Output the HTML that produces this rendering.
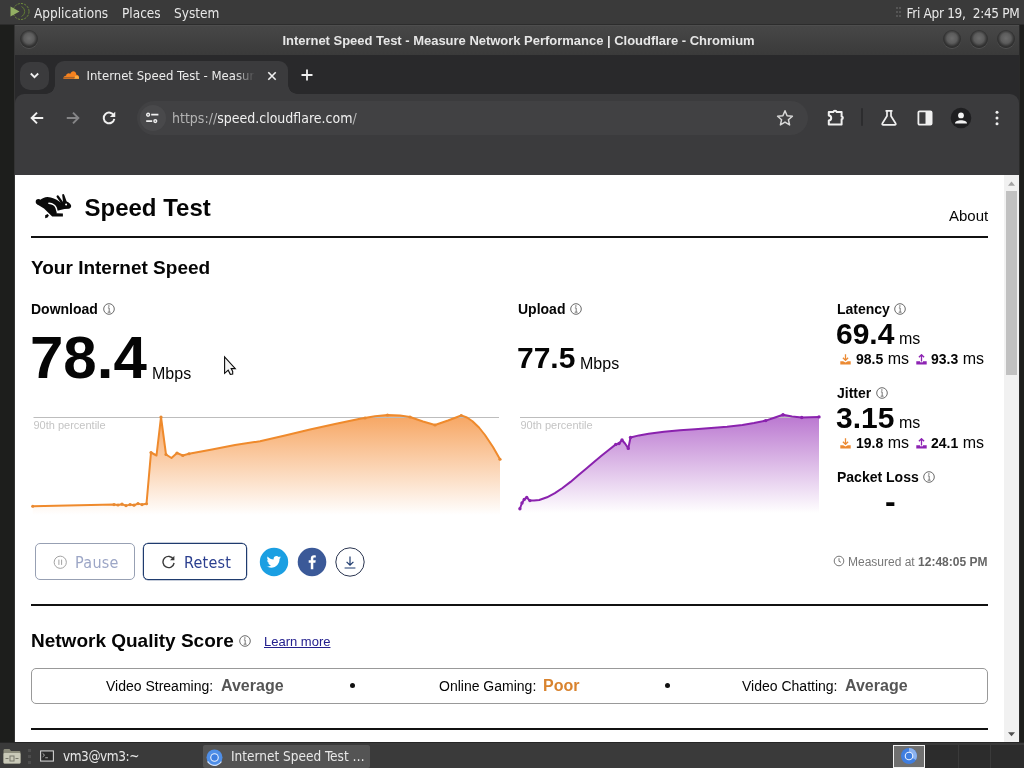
<!DOCTYPE html>
<html><head><meta charset="utf-8"><title>Internet Speed Test - Measure Network Performance | Cloudflare</title>
<style>
*{box-sizing:border-box;margin:0;padding:0}
html,body{width:1024px;height:768px;overflow:hidden;background:#1d1e1c;font-family:"Liberation Sans",sans-serif;}
.abs{position:absolute}
.ui{font-family:"DejaVu Sans Condensed","DejaVu Sans","Liberation Sans",sans-serif}
#top{left:0;top:0;width:1024px;height:25px;border-bottom:1px solid #2c2c2c;background:#3a3a3a;color:#e8e8e8;font-size:13.5px}
#top span{position:absolute;top:5px;white-space:pre;line-height:16px}
#win{left:15px;top:25px;width:1005px;height:718px;background:#29292b;border-right:1px solid #2a2a2a;box-shadow:-1px 0 0 #333}
#title{left:0;top:0;width:1004px;height:30px;padding-left:3px;letter-spacing:-.02px;border-top:1px solid #4e4e4e;background:linear-gradient(#474747,#3a3a3a);color:#e6e6e6;font-weight:bold;font-size:13px;text-align:center;line-height:30px}
.wb{position:absolute;top:4px;width:18px;height:18px;border-radius:50%;background:radial-gradient(circle at 50% 46%,#6c6c6c 0,#5c5c5c 38%,#343434 60%,#2c2c2c 74%,rgba(60,60,60,0) 100%);box-shadow:0 1px 0 rgba(255,255,255,.10)}
#tabs{left:0;top:30px;width:1004px;height:39px;background:#29292b}
#tab{left:40px;top:6px;width:233px;height:33px;background:#3b3b3d;border-radius:9px 9px 0 0;color:#ececec;font-size:13px}
#tb{left:0;top:69px;width:1004px;height:81px;background:#3b3b3d;border-radius:9px 9px 0 0}
#omni{left:122px;top:6.500px;width:671px;height:34px;border-radius:17px;background:#414143;color:#f0f0f0;font-size:14px}
#page{left:15px;top:175px;width:989px;height:568px;background:#fff;color:#050505;overflow:hidden}
#sb{left:1004px;top:175px;width:15px;height:568px;background:#f1f1f1}
#bot{left:0;top:742px;width:1024px;height:26px;border-top:1px solid #262626;background:#3a3a3a;color:#e8e8e8;font-size:13.5px}
.t{position:absolute;white-space:nowrap;line-height:1}
.b{font-weight:bold}
.hr{position:absolute;left:16px;width:957px;height:2px;background:#111}
</style></head><body>
<div id="top" class="abs ui">
 <svg class="abs" style="left:8.300px;top:1.300px" width="24" height="22" viewBox="0 0 24 22"><circle cx="13" cy="10.500" r="8" fill="none" stroke="#6f8c3c" stroke-width="1" stroke-dasharray="2.200 1.200"/><path d="M2.500 5.500L11.500 10.500L2.500 15.500Z" fill="#93b063"/><path d="M13.500 5.500A5.500 5.500 0 0 1 13.500 15.500" fill="none" stroke="#5f7a33" stroke-width="1"/></svg>
 <span style="left:34px">Applications</span><span style="left:122px">Places</span><span style="left:174px">System</span>
 <div class="abs" style="left:896px;top:7px;width:2px;height:2px;background:#555;box-shadow:0 4px #555,0 8px #555,3px 0 #555,3px 4px #555,3px 8px #555"></div>
 <span style="left:906.500px;letter-spacing:-.3px">Fri Apr 19,  2:45 PM</span>
</div>
<div id="win" class="abs">
 <div id="title" class="abs">Internet Speed Test - Measure Network Performance | Cloudflare - Chromium
  <div class="wb" style="left:4.500px"></div><div class="wb" style="left:927.500px"></div><div class="wb" style="left:954.500px"></div><div class="wb" style="left:981.500px"></div>
 </div>
 <div id="tabs" class="abs">
  <div class="abs" style="left:5px;top:6.500px;width:29px;height:28px;border-radius:10px;background:#3b3b3d"></div>
  <svg class="abs" style="left:13px;top:15px" width="13" height="11" viewBox="0 0 13 11"><path d="M2.800 3.500L6.500 7.200L10.200 3.500" fill="none" stroke="#f0f0f0" stroke-width="1.800"/></svg>
  <div id="tab" class="abs ui">
   <svg class="abs" style="left:7.500px;top:8.500px" width="16.500" height="9.200" viewBox="0 0 18 10"><path d="M0.300 9.400C0.300 7.200 2 6.200 3.300 6.400C3.300 3.800 6.500 2.600 8 4.200C9.200 0.200 14.200 0.600 14.600 5.200C16.800 5.200 17.800 7 17.700 9.400Z" fill="#f6821f"/><path d="M12.300 9.400L13.300 6.300H15.300C17 6.500 17.600 8 17.500 9.400Z" fill="#fbad41"/><path d="M0.300 8.100H12.800" stroke="#3b3b3d" stroke-width=".5"/></svg>
   <span class="t" style="left:31.500px;top:8px;width:168px;overflow:hidden;-webkit-mask-image:linear-gradient(90deg,#000 88%,transparent 100%)">Internet Speed Test - Measure</span>
   <svg class="abs" style="left:211px;top:9px" width="12" height="12" viewBox="0 0 12 12"><path d="M2.300 2.300L9.700 9.700M9.700 2.300L2.300 9.700" stroke="#f0f0f0" stroke-width="1.600"/></svg>
  </div>
  <div class="abs" style="left:31px;top:30px;width:9px;height:9px;background:radial-gradient(circle at 0 0,transparent 8.500px,#3b3b3d 9px)"></div>
  <div class="abs" style="left:273px;top:30px;width:9px;height:9px;background:radial-gradient(circle at 100% 0,transparent 8.500px,#3b3b3d 9px)"></div>
  <svg class="abs" style="left:285px;top:13px" width="14" height="14" viewBox="0 0 14 14"><path d="M7 1.500V12.500M1.500 7H12.500" stroke="#f0f0f0" stroke-width="1.800"/></svg>
 </div>
 <div id="tb" class="abs">
  <svg class="abs" style="left:14px;top:16px" width="16" height="16" viewBox="0 0 18 18"><path d="M16 9H3.500M9 3L3 9L9 15" fill="none" stroke="#f0f0f0" stroke-width="2.200"/></svg>
  <svg class="abs" style="left:50px;top:16px" width="16" height="16" viewBox="0 0 18 18"><path d="M2 9H14.500M9 3L15 9L9 15" fill="none" stroke="#858587" stroke-width="2.200"/></svg>
  <svg class="abs" style="left:86px;top:16px" width="16" height="16" viewBox="0 0 18 18"><path d="M14.600 6.500A6 6 0 1 0 15 10" fill="none" stroke="#f0f0f0" stroke-width="2.200"/><path d="M16 2V8H10Z" fill="#f0f0f0"/></svg>
  <div id="omni" class="abs ui">
   <div class="abs" style="left:3px;top:4px;width:26px;height:26px;border-radius:13px;background:#49494b"></div>
   <svg class="abs" style="left:9px;top:11px" width="13" height="12" viewBox="0 0 13 12"><path d="M5.200 2.700H12.400M0.200 9.100H6.200" stroke="#f0f0f0" stroke-width="1.700"/><circle cx="2.100" cy="2.700" r="1.400" fill="none" stroke="#f0f0f0" stroke-width="1.400"/><circle cx="9.300" cy="9.100" r="1.400" fill="none" stroke="#f0f0f0" stroke-width="1.400"/></svg>
   <span class="t" style="left:35px;top:10px"><span style="color:#b4b4b4">https://</span>speed.cloudflare.com<span style="color:#b4b4b4">/</span></span>
   <svg class="abs" style="left:639px;top:8px" width="18" height="18" viewBox="0 0 18 18"><path d="M9 1.800L11.100 6.700L16.400 7.200L12.400 10.700L13.600 15.900L9 13.100L4.400 15.900L5.600 10.700L1.600 7.200L6.900 6.700Z" fill="none" stroke="#d8d8d8" stroke-width="1.500" stroke-linejoin="round"/></svg>
  </div>
  <svg class="abs" style="left:811px;top:14px" width="20" height="20" viewBox="0 0 20 20"><path d="M2.800 4H7.400C7.600 2.300 10.400 2.300 10.600 4H15.600V8.400C17.300 8.600 17.300 11 15.600 11.200V16.400H2.800V12.600C6 12.400 6 7.800 2.800 7.600Z" fill="none" stroke="#f0f0f0" stroke-width="2" stroke-linejoin="round"/></svg>
  <div class="abs" style="left:846px;top:14px;width:2px;height:18px;background:#2c2c2e;border-radius:1px"></div>
  <svg class="abs" style="left:864px;top:14px" width="20" height="20" viewBox="0 0 20 20"><path d="M6.500 2.800H13.500M8 2.800V8L3.300 15.500C3 16.200 3.400 16.800 4.200 16.800H15.800C16.600 16.800 17 16.200 16.700 15.500L12 8V2.800" fill="none" stroke="#f0f0f0" stroke-width="1.700" stroke-linejoin="round"/></svg>
  <svg class="abs" style="left:900px;top:14px" width="20" height="20" viewBox="0 0 20 20"><rect x="3.400" y="3.400" width="13.200" height="13.200" rx="1.200" fill="none" stroke="#f0f0f0" stroke-width="1.800"/><rect x="10.500" y="3.400" width="6" height="13.200" fill="#f0f0f0"/></svg>
  <svg class="abs" style="left:935px;top:13px" width="22" height="22" viewBox="-11 -11 22 22"><circle r="10.300" fill="#1f1f21"/><circle cy="-2.600" r="2.900" fill="#f4f4f4"/><path d="M-6 5.600C-6 1.200 6 1.200 6 5.600Z" fill="#f4f4f4"/></svg>
  <svg class="abs" style="left:977px;top:14px" width="10" height="20" viewBox="0 0 10 20"><circle cx="5" cy="4.200" r="1.500" fill="#f0f0f0"/><circle cx="5" cy="10" r="1.500" fill="#f0f0f0"/><circle cx="5" cy="15.800" r="1.500" fill="#f0f0f0"/></svg>
 </div>
</div>
<div id="page" class="abs">
 <div class="t b" style="left:69.500px;top:21px;font-size:24px">Speed Test</div>
 <div class="t" style="left:934px;top:33px;font-size:15px">About</div>
 <div class="hr" style="top:61px"></div>
 <div class="t b" style="left:16px;top:83px;font-size:19px">Your Internet Speed</div>

<svg class="abs" style="left:0;top:0" width="989" height="568" viewBox="0 0 989 568">
<defs><linearGradient id="go" x1="0" y1="238" x2="0" y2="340" gradientUnits="userSpaceOnUse"><stop offset="0" stop-color="#f38020" stop-opacity=".72"/><stop offset="1" stop-color="#f38020" stop-opacity="0"/></linearGradient><linearGradient id="gp" x1="0" y1="238" x2="0" y2="338" gradientUnits="userSpaceOnUse"><stop offset="0" stop-color="#8d1eb1" stop-opacity=".62"/><stop offset="1" stop-color="#8d1eb1" stop-opacity="0"/></linearGradient></defs>
<path d="M17.75 331.25 L99 329.6 L103 330 L107 329.2 L111 330.6 L115 329.6 L119 330.2 L123 328.6 L127 329.6 L131.5 328.75 L136 277.5 L141.5 280.5 L146 242 L151 279.5 L156.5 283 L162 278 L167.75 280.5 L174 278.75 L197 274.5 L220 270 L245 266.25 L270 260.5 L295 254.5 L320 249 L345 243.75 L360 241.3 L372.5 240 L385 240.6 L395 242 L408 246.5 L420 250 L433 245.5 L446.25 240.5 L452 242.5 L457.5 246.25 L464 252.5 L470 260 L478 272 L485 284.25 L485 340 L17.75 340Z" fill="url(#go)"/>
<path d="M18.5 242.5H484" stroke="#bdbdbd" stroke-width="1" fill="none"/>
<path d="M17.75 331.25 L99 329.6 L103 330 L107 329.2 L111 330.6 L115 329.6 L119 330.2 L123 328.6 L127 329.6 L131.5 328.75 L136 277.5 L141.5 280.5 L146 242 L151 279.5 L156.5 283 L162 278 L167.75 280.5 L174 278.75 L197 274.5 L220 270 L245 266.25 L270 260.5 L295 254.5 L320 249 L345 243.75 L360 241.3 L372.5 240 L385 240.6 L395 242 L408 246.5 L420 250 L433 245.5 L446.25 240.5 L452 242.5 L457.5 246.25 L464 252.5 L470 260 L478 272 L485 284.25" fill="none" stroke="#ef8a2c" stroke-width="2" stroke-linejoin="round" stroke-linecap="round"/>
<path d="M504.9 333.75 L507 328 L509.25 324.4 L511.75 322.5 L514.9 325.6 L519 325.6 L524.25 325 L532 322.3 L539.9 318.1 L547.5 313 L555.5 306.9 L563 300.5 L571.1 293.75 L579 287 L586.75 280.6 L594 274.8 L600.8 269.4 L604 268.5 L607 265 L610 268.5 L613.3 273.4 L615.5 262.5 L624 260.4 L633.6 258.75 L649 256.8 L664.9 255.3 L680 254.2 L696.1 253.1 L712 251.8 L727.4 250 L739 248 L750.8 245.6 L760 242.5 L768 239.7 L777 241.5 L786.75 242.5 L795 242.3 L804 241.9 L804 338 L504.9 338Z" fill="url(#gp)"/>
<path d="M505 242.5H804" stroke="#bdbdbd" stroke-width="1" fill="none"/>
<path d="M504.9 333.75 L507 328 L509.25 324.4 L511.75 322.5 L514.9 325.6 L519 325.6 L524.25 325 L532 322.3 L539.9 318.1 L547.5 313 L555.5 306.9 L563 300.5 L571.1 293.75 L579 287 L586.75 280.6 L594 274.8 L600.8 269.4 L604 268.5 L607 265 L610 268.5 L613.3 273.4 L615.5 262.5 L624 260.4 L633.6 258.75 L649 256.8 L664.9 255.3 L680 254.2 L696.1 253.1 L712 251.8 L727.4 250 L739 248 L750.8 245.6 L760 242.5 L768 239.7 L777 241.5 L786.75 242.5 L795 242.3 L804 241.9" fill="none" stroke="#8a22ae" stroke-width="2" stroke-linejoin="round" stroke-linecap="round"/>
<g fill="#e88a33"><circle cx="17.75" cy="331.25" r="1.6"/><circle cx="99" cy="329.6" r="1.6"/><circle cx="103" cy="330" r="1.6"/><circle cx="107" cy="329.2" r="1.6"/><circle cx="111" cy="330.6" r="1.6"/><circle cx="115" cy="329.6" r="1.6"/><circle cx="119" cy="330.2" r="1.6"/><circle cx="123" cy="328.6" r="1.6"/><circle cx="127" cy="329.6" r="1.6"/><circle cx="131.5" cy="328.75" r="1.6"/><circle cx="136" cy="277.5" r="1.6"/><circle cx="146" cy="242" r="1.6"/><circle cx="151" cy="279.5" r="1.6"/><circle cx="162" cy="278" r="1.6"/><circle cx="167.75" cy="280.5" r="1.6"/><circle cx="174" cy="278.75" r="1.6"/><circle cx="350" cy="243" r="1.6"/><circle cx="372.5" cy="240" r="1.6"/><circle cx="395" cy="242" r="1.6"/><circle cx="420" cy="250" r="1.6"/><circle cx="446.25" cy="240.5" r="1.6"/><circle cx="485" cy="284.25" r="1.6"/></g>
<g fill="#8a22ae"><circle cx="504.9" cy="333.75" r="1.7"/><circle cx="507" cy="328" r="1.7"/><circle cx="509.25" cy="324.4" r="1.7"/><circle cx="511.75" cy="322.5" r="1.7"/><circle cx="514.9" cy="325.6" r="1.7"/><circle cx="600.8" cy="269.4" r="1.7"/><circle cx="604" cy="268.5" r="1.7"/><circle cx="607" cy="265" r="1.7"/><circle cx="613.3" cy="273.4" r="1.7"/><circle cx="615.5" cy="262.5" r="1.7"/><circle cx="750.8" cy="245.6" r="1.7"/><circle cx="768" cy="239.7" r="1.7"/><circle cx="786.75" cy="242.5" r="1.7"/><circle cx="804" cy="241.9" r="1.7"/></g>
<text x="18.5" y="254" font-size="11" fill="#c4c4c4" font-family="Liberation Sans, sans-serif">90th percentile</text>
<text x="505.5" y="254" font-size="11" fill="#c4c4c4" font-family="Liberation Sans, sans-serif">90th percentile</text>
</svg>
<svg class="abs" style="left:86.75px;top:126.9px" width="14" height="14" viewBox="-7 -7 14 14"><circle r="5.3" fill="none" stroke="#6a6a6a" stroke-width="1"/><path d="M-1.100 -1.100H0.200V3.100M-1.300 3.200H1.600" fill="none" stroke="#6a6a6a" stroke-width=".9"/><circle cx="-.1" cy="-3" r=".75" fill="#6a6a6a"/></svg>
<svg class="abs" style="left:553.75px;top:127.1px" width="14" height="14" viewBox="-7 -7 14 14"><circle r="5.3" fill="none" stroke="#6a6a6a" stroke-width="1"/><path d="M-1.100 -1.100H0.200V3.100M-1.300 3.200H1.600" fill="none" stroke="#6a6a6a" stroke-width=".9"/><circle cx="-.1" cy="-3" r=".75" fill="#6a6a6a"/></svg>
<svg class="abs" style="left:878px;top:127px" width="14" height="14" viewBox="-7 -7 14 14"><circle r="5.3" fill="none" stroke="#6a6a6a" stroke-width="1"/><path d="M-1.100 -1.100H0.200V3.100M-1.300 3.200H1.600" fill="none" stroke="#6a6a6a" stroke-width=".9"/><circle cx="-.1" cy="-3" r=".75" fill="#6a6a6a"/></svg>
<svg class="abs" style="left:859.75px;top:211px" width="14" height="14" viewBox="-7 -7 14 14"><circle r="5.3" fill="none" stroke="#6a6a6a" stroke-width="1"/><path d="M-1.100 -1.100H0.200V3.100M-1.300 3.200H1.600" fill="none" stroke="#6a6a6a" stroke-width=".9"/><circle cx="-.1" cy="-3" r=".75" fill="#6a6a6a"/></svg>
<svg class="abs" style="left:907px;top:295px" width="14" height="14" viewBox="-7 -7 14 14"><circle r="5.3" fill="none" stroke="#6a6a6a" stroke-width="1"/><path d="M-1.100 -1.100H0.200V3.100M-1.300 3.200H1.600" fill="none" stroke="#6a6a6a" stroke-width=".9"/><circle cx="-.1" cy="-3" r=".75" fill="#6a6a6a"/></svg>
<svg class="abs" style="left:223px;top:459.25px" width="14" height="14" viewBox="-7 -7 14 14"><circle r="5.3" fill="none" stroke="#6a6a6a" stroke-width="1"/><path d="M-1.100 -1.100H0.200V3.100M-1.300 3.200H1.600" fill="none" stroke="#6a6a6a" stroke-width=".9"/><circle cx="-.1" cy="-3" r=".75" fill="#6a6a6a"/></svg>
<svg class="abs" style="left:824.7px;top:178.6px" width="11" height="11" viewBox="0 0 11 11"><path d="M5.5 0.3V6.2M2.9 3.8L5.5 6.4L8.1 3.8" fill="none" stroke="#ec8a33" stroke-width="1.3"/><path d="M0.3 7.2H3.2L5.5 8.6L7.8 7.2H10.7V10.6H0.3Z" fill="#ec8a33"/></svg>
<svg class="abs" style="left:900.8px;top:178.6px" width="11" height="11" viewBox="0 0 11 11"><path d="M5.5 7.6V0.9M2.9 3.3L5.5 0.7L8.1 3.3" fill="none" stroke="#8d23b3" stroke-width="1.3"/><path d="M0.3 7.2H4V8.3H7V7.2H10.7V10.6H0.3Z" fill="#8d23b3"/></svg>
<svg class="abs" style="left:824.7px;top:262.6px" width="11" height="11" viewBox="0 0 11 11"><path d="M5.5 0.3V6.2M2.9 3.8L5.5 6.4L8.1 3.8" fill="none" stroke="#ec8a33" stroke-width="1.3"/><path d="M0.3 7.2H3.2L5.5 8.6L7.8 7.2H10.7V10.6H0.3Z" fill="#ec8a33"/></svg>
<svg class="abs" style="left:900.8px;top:262.6px" width="11" height="11" viewBox="0 0 11 11"><path d="M5.5 7.6V0.9M2.9 3.3L5.5 0.7L8.1 3.3" fill="none" stroke="#8d23b3" stroke-width="1.3"/><path d="M0.3 7.2H4V8.3H7V7.2H10.7V10.6H0.3Z" fill="#8d23b3"/></svg>
<div class="abs" style="left:20px;top:368px;width:100px;height:37px;border:1px solid #97a0b3;border-radius:5px"></div>
<svg class="abs" style="left:38px;top:380px" width="14" height="14" viewBox="-7 -7 14 14"><circle cx=".25" cy=".25" r="6.1" fill="none" stroke="#a3a3a3" stroke-width="1"/><path d="M-1.1 -2.4V2.9M1.6 -2.4V2.9" stroke="#a3a3a3" stroke-width="1"/></svg>
<div class="t ui" style="left:60px;top:379.500px;font-size:16px;letter-spacing:.3px;color:#9ca6c6">Pause</div>
<div class="abs" style="left:128px;top:368px;width:104px;height:37px;border:1px solid #1f3b6e;border-radius:5px;box-shadow:0 0 0 .2px #1f3b6e"></div>
<svg class="abs" style="left:146px;top:380px" width="15" height="14" viewBox="-7.5 -7 15 14"><path d="M5 -2.700A5.600 5.600 0 1 0 5.600 1" fill="none" stroke="#3a3a3a" stroke-width="1.400"/><path d="M5.900 -6.200V-1.800H1.500Z" fill="#3a3a3a"/></svg>
<div class="t ui" style="left:169px;top:379.500px;font-size:16px;letter-spacing:.2px;color:#2b3f8f">Retest</div>
<svg class="abs" style="left:244px;top:372px" width="30" height="30" viewBox="-15 -15 30 30"><circle r="14.2" fill="#1b9fe2"/><path transform="translate(-7.2,-6.2) scale(.6)" fill="#fff" d="M23.6 2.6c-.9.4-1.8.7-2.8.8 1-.6 1.800-1.600 2.100-2.700-.9.600-2 1-3.100 1.200C18.900.9 17.600.3 16.200.3c-2.700 0-4.900 2.200-4.900 4.900 0 .4 0 .8.100 1.100C7.400 6.100 3.800 4.200 1.400 1.200.9 1.900.7 2.800.7 3.700c0 1.700.9 3.200 2.200 4.100-.8 0-1.600-.2-2.200-.6v.1c0 2.400 1.700 4.400 3.900 4.800-.4.100-.8.200-1.300.2-.3 0-.6 0-.9-.1.600 2 2.400 3.400 4.600 3.400-1.700 1.300-3.800 2.100-6.100 2.100-.4 0-.8 0-1.200-.1 2.200 1.400 4.800 2.200 7.500 2.200 9.100 0 14-7.500 14-14v-.6c1-.7 1.800-1.600 2.400-2.600z"/></svg>
<svg class="abs" style="left:282px;top:372px" width="30" height="30" viewBox="-15 -15 30 30"><circle r="14.3" fill="#3b5998"/><path fill="#fff" d="M1.300 7.200V0.800H3.400L3.750 -1.700H1.300V-3.200C1.300 -3.900 1.500 -4.400 2.550 -4.400H3.800V-6.600C3.550 -6.650 2.800 -6.700 1.950 -6.700C0.100 -6.700 -1.200 -5.550 -1.200 -3.500V-1.700H-3.300V0.800H-1.200V7.200Z"/></svg>
<svg class="abs" style="left:320px;top:372px" width="30" height="30" viewBox="-15 -15 30 30"><circle r="14.2" fill="#fff" stroke="#2a3550" stroke-width="1"/><path d="M0 -5.600V3.200M-3.400 -0.200L0 3.200L3.400 -0.200M-5.400 6H5.400" fill="none" stroke="#1f3b6e" stroke-width="1.200"/></svg>
<svg class="abs" style="left:818px;top:380px" width="12" height="12" viewBox="-6 -6 12 12"><circle r="4.800" fill="none" stroke="#777" stroke-width="1"/><path d="M0 -2.800V0.300L2 1.300" fill="none" stroke="#777" stroke-width="1"/></svg>
<div class="abs" style="left:335px;top:508px;width:5px;height:5px;border-radius:50%;background:#111"></div>
<div class="abs" style="left:650px;top:508px;width:5px;height:5px;border-radius:50%;background:#111"></div>
<svg class="abs" style="left:0;top:0" width="80" height="60" viewBox="15 175 80 60"><g fill="#0a0a0a" stroke="none">
<circle cx="38.450" cy="201.700" r="2.750"/>
<path d="M39.500 200.600 C42 198.400 44.800 197 47.500 197 C52 197.100 56 199.200 59.300 201.500 L62.600 203.600 C63.500 201.800 65 201.200 66.300 201.500 C68.600 202 70.300 203.600 71.100 205.400 C71.400 207 70.500 208.300 69 208.700 L64.500 209.100 L58.300 210.500 L57 211.300 L56.500 213.300 L62.900 213.400 L62.900 216.500 L52.200 216.500 L44 208.600 L37 204.300 Z"/>
<path d="M57.700 196.500 L62.300 203" stroke="#0a0a0a" stroke-width="2.300" stroke-linecap="round"/>
<path d="M62.200 195.300 C62.300 193.800 63.800 193.600 64.300 195 L67 202.500 L63.200 203.500 Z"/>
<path d="M45.200 215.200 L47.600 214 L48.900 215.600 L47.500 217.400 L45.200 218.200 Z"/>
</g><path d="M48.900 203.300 C52.500 203.700 55.300 205.500 56.200 208 C56.700 209.500 56.700 210.500 57.300 211.500" fill="none" stroke="#fff" stroke-width="1.500" stroke-linecap="round"/><circle cx="66.100" cy="204.500" r="1" fill="#fff"/></svg>
<svg class="abs" style="left:205px;top:175px" width="30" height="30" viewBox="220 350 30 30"><path d="M224.600 357V373.300L228.200 370.200L230.300 374.300L232.700 374.100L232.700 371.500L231.200 368.600H235.300Z" fill="#f4f4f4" stroke="#0a0a0a" stroke-width="1.100" stroke-linejoin="miter"/></svg>
 <div class="t b" style="left:16px;top:127px;font-size:14px">Download</div>
 <div class="t b" style="left:15px;top:153px;font-size:60px">78.4</div>
 <div class="t" style="left:137px;top:191px;font-size:16px">Mbps</div>

 <div class="t b" style="left:503px;top:127px;font-size:14px">Upload</div>
 <div class="t b" style="left:502px;top:168px;font-size:30px">77.5</div>
 <div class="t" style="left:565px;top:181px;font-size:16px">Mbps</div>

 <div class="t b" style="left:822px;top:127px;font-size:14px">Latency</div>
 <div class="t b" style="left:821px;top:144px;font-size:30px">69.4</div>
 <div class="t" style="left:884px;top:156px;font-size:16px">ms</div>
 <div class="t" style="left:841px;top:176px;font-size:16px"><b style="font-size:14px">98.5</b> ms</div>
 <div class="t" style="left:916px;top:176px;font-size:16px"><b style="font-size:14px">93.3</b> ms</div>

 <div class="t b" style="left:822px;top:211px;font-size:14px">Jitter</div>
 <div class="t b" style="left:821px;top:228px;font-size:30px">3.15</div>
 <div class="t" style="left:884px;top:240px;font-size:16px">ms</div>
 <div class="t" style="left:841px;top:260px;font-size:16px"><b style="font-size:14px">19.8</b> ms</div>
 <div class="t" style="left:916px;top:260px;font-size:16px"><b style="font-size:14px">24.1</b> ms</div>

 <div class="t b" style="left:822px;top:295px;font-size:14px">Packet Loss</div>
 <div class="t b" style="left:870px;top:310px;font-size:32px">-</div>

 <div class="t" style="left:833px;top:381px;font-size:12px;color:#777">Measured at <b style="color:#666">12:48:05 PM</b></div>
 <div class="hr" style="top:429px"></div>
 <div class="t b" style="left:16px;top:456px;font-size:19px">Network Quality Score</div>
 <div class="t" style="left:249px;top:460px;font-size:13px;color:#24208e;text-decoration:underline">Learn more</div>
 <div class="abs" style="left:16px;top:493px;width:957px;height:36px;border:1px solid #999;border-radius:5px"></div>
 <div class="t" style="left:91px;top:504px;font-size:14px">Video Streaming:</div>
 <div class="t b" style="left:206px;top:503px;font-size:16px;color:#555">Average</div>
 <div class="t" style="left:424px;top:504px;font-size:14px">Online Gaming:</div>
 <div class="t b" style="left:528px;top:503px;font-size:16px;color:#d9832e">Poor</div>
 <div class="t" style="left:727px;top:504px;font-size:14px">Video Chatting:</div>
 <div class="t b" style="left:830px;top:503px;font-size:16px;color:#555">Average</div>
 <div class="hr" style="top:553px"></div>
</div>
<div id="sb" class="abs">
 <div class="abs" style="left:2px;top:16px;width:10.500px;height:184px;background:#c1c1c1"></div>
 <svg class="abs" style="left:0;top:0" width="15" height="15" viewBox="0 0 15 15"><path d="M4 10.800H11L7.500 6.400Z" fill="#a3a3a3"/></svg>
 <svg class="abs" style="left:0;top:553px" width="15" height="15" viewBox="0 0 15 15"><path d="M4 4.300H11L7.500 8.300Z" fill="#505050"/></svg>
</div>
<div id="bot" class="abs ui">
 <svg class="abs" style="left:2px;top:3px" width="20" height="20" viewBox="0 0 20 20"><path d="M1.500 4.500C1.500 3.500 2 3 3 3H7.500L9 5H17C18 5 18.500 5.500 18.500 6.500V16C18.500 17 18 17.500 17 17.500H3C2 17.500 1.500 17 1.500 16Z" fill="#8c8c7c"/><rect x="1.500" y="7" width="17" height="10.500" rx="1" fill="#c9c9b8"/><rect x="8" y="10" width="4" height="5" fill="none" stroke="#77776a" stroke-width="1"/><path d="M3.500 12.500H6.500M13.500 12.500H16.500" stroke="#77776a" stroke-width="1"/></svg>
 <div class="abs" style="left:28px;top:6px;width:3px;height:3px;background:#4d4d4d;box-shadow:0 6px #4d4d4d,0 12px #4d4d4d"></div>
 <svg class="abs" style="left:40px;top:7px" width="14" height="12" viewBox="0 0 16 13"><rect x=".7" y=".7" width="14.600" height="11.600" fill="#2a2a2a" stroke="#d8d8d8" stroke-width="1.200"/><path d="M3 3.500L5.200 5.500L3 7.500M6 8.500H9" fill="none" stroke="#bdbdbd" stroke-width="1"/></svg>
 <span class="t" style="left:63px;top:7px;letter-spacing:-.45px">vm3@vm3:~</span>
 <div class="abs" style="left:203px;top:2px;width:167px;height:23px;background:#545454;border-radius:2px"></div>
 <svg class="abs" style="left:206px;top:6px" width="17" height="17" viewBox="-8.500 -8.500 17 17"><circle r="8" fill="#4f8fe8"/><circle r="7.900" fill="none" stroke="#cfe0fa" stroke-width="1.200" stroke-dasharray="16.500 33" transform="rotate(30)"/><circle r="4.300" fill="#e8f0fe"/><circle r="3.200" fill="#3f7fe0"/></svg>
 <span class="t" style="left:231px;top:7px">Internet Speed Test …</span>
 <div class="abs" style="left:893px;top:2px;width:131px;height:23px;background:#2c2c2c"></div>
 <div class="abs" style="left:958px;top:2px;width:1px;height:23px;background:#3a3a3a"></div>
 <div class="abs" style="left:990px;top:2px;width:1px;height:23px;background:#3a3a3a"></div>
 <div class="abs" style="left:893px;top:2px;width:32px;height:23px;background:#707070;border:1px solid #f2f2f2"></div>
 <svg class="abs" style="left:900px;top:4px" width="18" height="18" viewBox="-9 -9 18 18"><circle r="8" fill="#3f7ee0"/><path d="M0 -8A8 8 0 0 1 6.900 4L0 0Z" fill="#9fbff2" opacity=".8"/><circle r="4.300" fill="#e8f0fe"/><circle r="3.200" fill="#3f7fe0"/></svg>
</div>
</body></html>
